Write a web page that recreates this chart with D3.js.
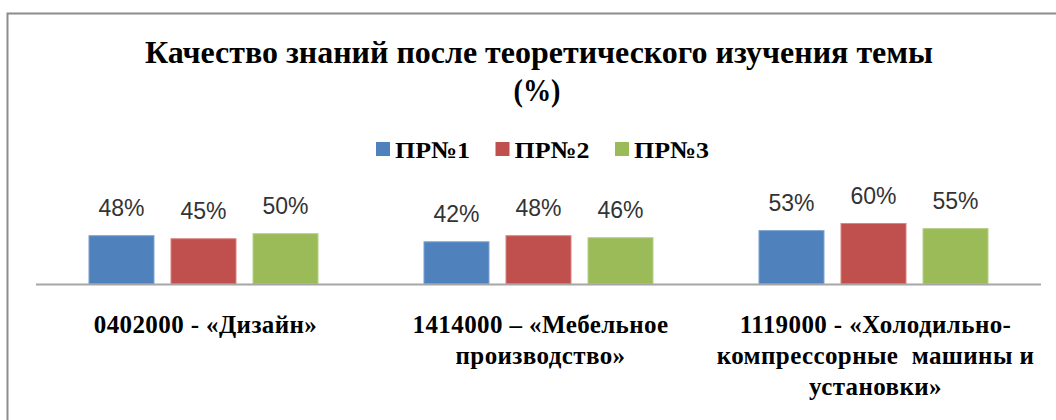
<!DOCTYPE html>
<html lang="ru">
<head>
<meta charset="UTF-8">
<title>Качество знаний</title>
<script src="https://d3js.org/d3.v7.min.js"></script>
<style>
  body { margin: 0; background: #fff; overflow: hidden; }
  svg { display: block; }
  .title { font-family: "Liberation Serif", "Times New Roman", serif; font-weight: bold; fill: #000; }
  .legend text { font-family: "Liberation Serif", "Times New Roman", serif; font-weight: bold; font-size: 24px; fill: #000; }
  .value { font-family: "Liberation Sans", Arial, sans-serif; font-size: 23px; fill: #333; }
  .cat { font-family: "Liberation Serif", "Times New Roman", serif; font-weight: bold; font-size: 25px; fill: #000; letter-spacing: 0.4px; }
</style>
</head>
<body>
<script>
  // data
  var categories = [
    "0402000 - «Дизайн»",
    "1414000 – «Мебельное\nпроизводство»",
    "1119000 - «Холодильно-\nкомпрессорные  машины и\nустановки»"
  ];
  var series = ["ПР№1", "ПР№2", "ПР№3"];
  var values = [
    [48, 45, 50],   // Дизайн
    [42, 48, 46],   // Мебельное производство
    [53, 60, 55]    // Холодильно-компрессорные
  ];
  var colors = ["#4F81BD", "#C0504D", "#9BBB59"];
  var strokes = ["#7fa3d3", "#d98582", "#b6d18a"];

  var W = 1056, H = 420;
  var baseY = 284;

  var svg = d3.select("body").append("svg")
    .attr("width", W)
    .attr("height", H);

  // chart frame (only top and left edges are visible in the crop)
  svg.append("path")
    .attr("d", "M7.5," + H + " V13.5 H" + W)
    .attr("fill", "none")
    .attr("stroke", "#8c8c8c")
    .attr("stroke-width", 2);

  // title
  var title = svg.append("g").attr("class", "title");
  title.append("text")
    .attr("x", 539).attr("y", 63)
    .attr("text-anchor", "middle")
    .attr("font-size", 32)
    .attr("textLength", 788)
    .attr("lengthAdjust", "spacingAndGlyphs")
    .text("Качество знаний после теоретического изучения темы");
  title.append("text")
    .attr("x", 537).attr("y", 101)
    .attr("text-anchor", "middle")
    .attr("font-size", 32)
    .attr("textLength", 47)
    .attr("lengthAdjust", "spacingAndGlyphs")
    .text("(%)");

  // legend
  var legend = svg.append("g").attr("class", "legend")
    .selectAll("g")
    .data(series)
    .enter().append("g")
    .attr("transform", function (d, i) { return "translate(" + (376 + i * 119.5) + ",142)"; });

  legend.append("rect")
    .attr("width", 14).attr("height", 14)
    .attr("fill", function (d, i) { return colors[i]; });

  legend.append("text")
    .attr("x", 19).attr("y", 15.5)
    .attr("textLength", 75)
    .attr("lengthAdjust", "spacingAndGlyphs")
    .text(function (d) { return d; });

  // scales
  var x0 = d3.scaleBand()
    .domain(d3.range(categories.length))
    .range([36, 1041]);

  var x1 = d3.scaleBand()
    .domain(d3.range(series.length))
    .range([0, x0.bandwidth()])
    .paddingInner(0.195)
    .paddingOuter(0.64);

  var y = d3.scaleLinear()
    .domain([0, 100])
    .range([baseY, baseY - 101.7]);

  // bars
  var groups = svg.append("g")
    .selectAll("g")
    .data(values)
    .enter().append("g")
    .attr("transform", function (d, i) { return "translate(" + x0(i) + ",0)"; });

  groups.selectAll("rect")
    .data(function (d) { return d; })
    .enter().append("rect")
    .attr("x", function (d, i) { return x1(i) + 0.5; })
    .attr("y", function (d) { return y(d) + 0.5; })
    .attr("width", x1.bandwidth() - 1)
    .attr("height", function (d) { return baseY - y(d) - 0.5; })
    .attr("fill", function (d, i) { return colors[i]; })
    .attr("stroke", function (d, i) { return strokes[i]; })
    .attr("stroke-width", 1);

  groups.selectAll("text")
    .data(function (d) { return d; })
    .enter().append("text")
    .attr("class", "value")
    .attr("x", function (d, i) { return x1(i) + x1.bandwidth() / 2; })
    .attr("y", function (d) { return y(d) - 19; })
    .attr("text-anchor", "middle")
    .text(function (d) { return d + "%"; });

  // category axis line
  svg.append("line")
    .attr("x1", 36).attr("x2", 1041)
    .attr("y1", baseY + 0.5).attr("y2", baseY + 0.5)
    .attr("stroke", "#a6a6a6")
    .attr("stroke-width", 2);

  // category labels
  var cats = svg.append("g")
    .selectAll("text")
    .data(categories)
    .enter().append("text")
    .attr("class", "cat")
    .attr("text-anchor", "middle")
    .attr("transform", function (d, i) { return "translate(" + (x0(i) + x0.bandwidth() / 2 + 2) + ",333)"; });

  cats.selectAll("tspan")
    .data(function (d) { return d.split("\n"); })
    .enter().append("tspan")
    .attr("x", 0)
    .attr("y", function (d, i) { return i * 31; })
    .style("white-space", "pre")
    .text(function (d) { return d; });
</script>
</body>
</html>
